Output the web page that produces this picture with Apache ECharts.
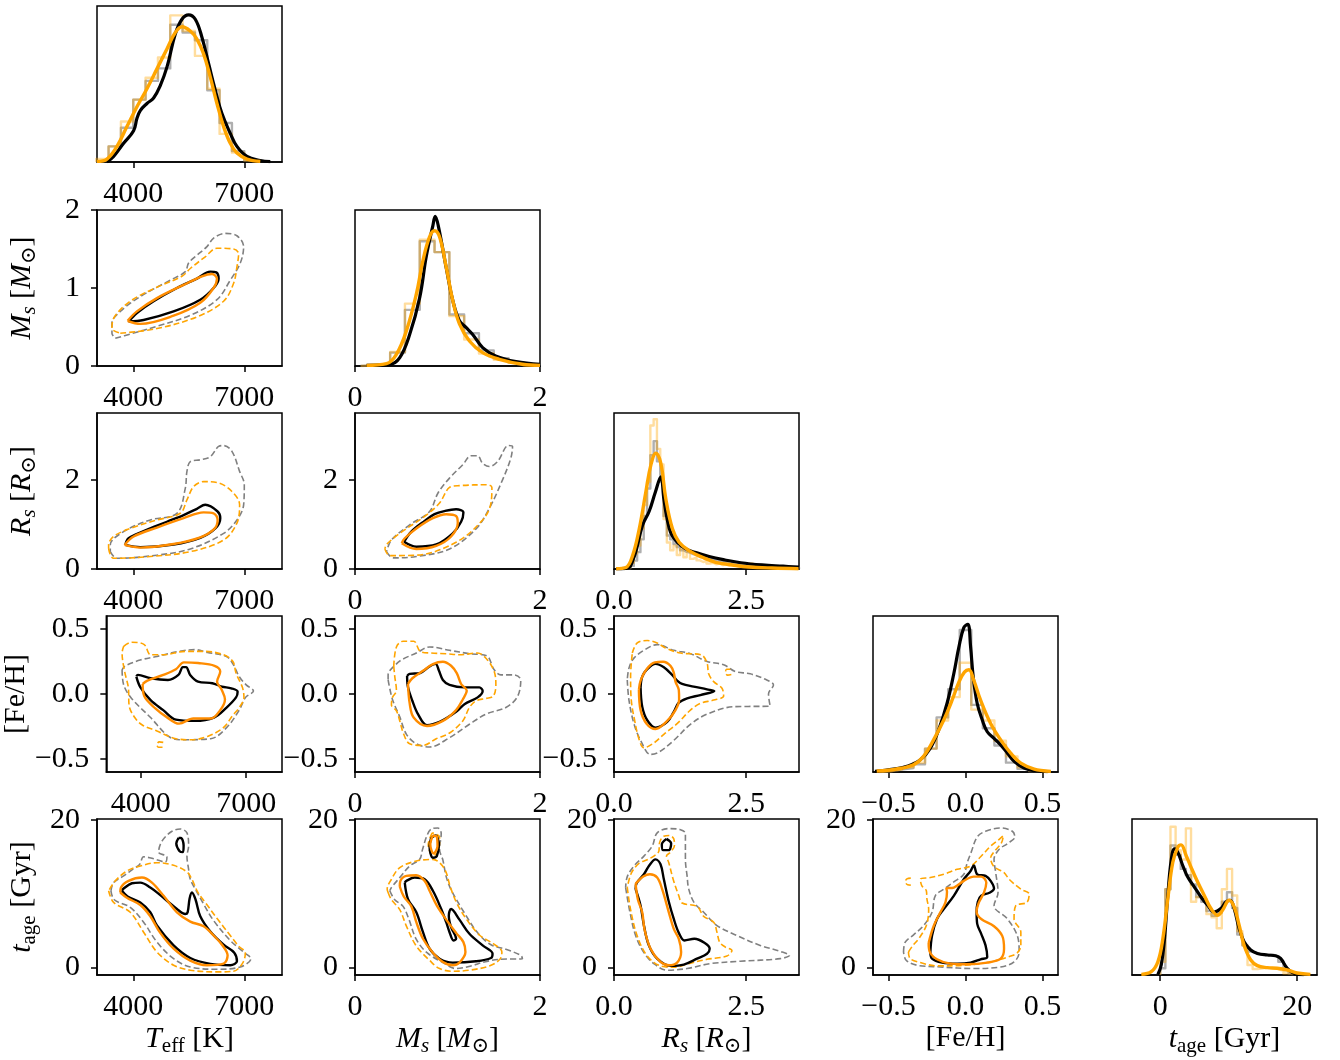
<!DOCTYPE html>
<html><head><meta charset="utf-8">
<script src="https://cdn.jsdelivr.net/npm/echarts@6/dist/echarts.min.js"></script>
<style>html,body{margin:0;padding:0;background:#fff}#c{width:1340px;height:1060px}</style>
</head><body><div id="c"></div>
<script>
// ---------- tick labels ----------
const X_TICKS = { teff:[4000,7000], ms:[0,2], rs:[0,2.5], feh:[-0.5,0,0.5], age:[0,20] };
const Y_TICKS = { ms:[0,1,2], rs:[0,2], feh:[-0.5,0,0.5], age:[0,20] };
const RANGES = { teff:[3020,8020], ms:[0,2], rs:[0,3.5], feh:[-0.6,0.6], age:[-1,20.1] };
const DIAG_RANGES = { teff:[3020,8020], ms:[0,2], rs:[0,3.5], feh:[-0.6,0.6], age:[-4.12,22.9] };

// ---------- 1D histograms (bin edges, heights) ----------
const TEFF_BIN_EDGES = [3000,3333,3667,4000,4333,4667,5000,5333,5667,6000,6333,6667,7000,7333];
const TEFF_HIST_BLACK = [1,10,22,40,52,60,88,83,78,46,25,7,1];
const TEFF_HIST_ORANGE = [2,10,26,40,54,67,94,84,68,47,18,6,1];
const MS_BIN_EDGES = [0.06,0.22,0.38,0.54,0.70,0.86,1.02,1.18,1.34,1.50,1.66,1.82,1.98];
const MS_HIST_BLACK = [0.5,1,8.6,36,80,73,33,21,10,5,2.5,1];
const MS_HIST_ORANGE = [0.5,1.5,9,40,81,73,32,17,8,4,2,0.5];
const RS_BIN_EDGES = [0.1875,0.25,0.3125,0.375,0.4375,0.5,0.5625,0.625,0.6875,0.75,0.8125,0.875,0.9375,1.0,1.0625,1.125,1.1875,1.25,1.3125,1.375,1.4375,1.5,1.5625,1.625,1.6875,1.75,1.8125,1.875,1.9375,2.0,2.0625,2.125,2.1875,2.25,2.3125,2.375,2.4375,2.5,2.5625,2.625,2.6875,2.75,2.8125,2.875,2.9375,3.0,3.0625,3.125,3.1875,3.25,3.3125,3.375,3.4375,3.5];
const RS_HIST_BLACK = [0.2,0.4,2,5.4,10.8,19,34,51.6,73,82,69,56,34,21.5,19,16,14,12,11,10.5,9.5,9,8,7.5,7,6.5,6,5.5,5,4.8,4.5,4.2,4,3.8,3.5,3.3,3,2.8,2.6,2.4,2.2,2,1.9,1.8,1.6,1.5,1.4,1.3,1.2,1.1,1,1,0.9];
const RS_HIST_ORANGE = [0.2,1,4,10,15,26,41,56,92,96,77,67,32,17,12,15,9,13,7.5,11,6.5,7.5,5.5,4.5,5,3.5,4,3,3.5,2.5,3,2,2.5,2,1.5,2,1.5,2,3.5,1.5,1,1.2,0.8,1,0.6,0.8,0.5,0.6,0.4,0.5,0.3,0.4,0.2];
const FEH_BIN_EDGES = [-0.5625,-0.4875,-0.4125,-0.3375,-0.2625,-0.1875,-0.1125,-0.0375,0.0375,0.1125,0.1875,0.2625,0.3375,0.4125,0.4875];
const FEH_HIST_BLACK = [0.5,1.5,2.5,5,15,35,53,91,43,28,17,6,2,0.5];
const FEH_HIST_ORANGE = [0.5,1.5,3,6,15,33,48,70,40,33,20,10,3,1];
const AGE_BIN_EDGES = [0,0.75,1.5,2.25,3,3.75,4.5,5.25,6,6.75,7.5,8.25,9,9.75,10.5,11.25,12,12.75,13.5,14.25,15,15.75,16.5,17.25,18,18.75,19.5];
const AGE_HIST_BLACK = [4.3,55,83,77,68,64,58,50,47,41,38,40,47,53,43,26,19,15,14,13,13,13,12,8.5,3.2,1];
const AGE_HIST_ORANGE = [8.5,55,95,80,74,94,47,50,49,39,37,30,55,68,51,28,19,6.4,3.8,4.3,4.7,4.3,3.8,2.6,1,0.5];

// ---------- 1D KDE curves ----------
const TEFF_KDE_BLACK = [[3289,0],[3469,3.6],[3739,12],[4009,20],[4100,28],[4190,33],[4370,37.5],[4550,41],[4730,49],[4910,60.8],[5136,82],[5316,91.5],[5496,94.3],[5676,91.5],[5856,80],[6037,63],[6217,46],[6397,31],[6622,18.4],[6802,10],[7073,3.6],[7433,1],[7703,0.2]];
const TEFF_KDE_ORANGE = [[3018,0.4],[3289,1.9],[3559,10],[3829,22.7],[4100,35.4],[4370,47],[4640,59.7],[4910,72.5],[5136,83],[5316,86.7],[5541,84],[5721,78.8],[5901,69.3],[6082,54.4],[6262,37.5],[6442,22.7],[6622,12],[6802,5.7],[7073,1.9],[7433,0.4]];
const MS_KDE_BLACK = [[0.125,0.4],[0.376,1],[0.484,5.4],[0.59,20],[0.70,44],[0.77,70],[0.842,90],[0.867,96],[0.9,90],[0.986,63],[1.057,42],[1.129,29],[1.2,24.7],[1.27,20.4],[1.38,11.8],[1.52,6.5],[1.74,2.8],[2.0,1]];
const MS_KDE_ORANGE = [[0.125,0.4],[0.34,1.5],[0.448,7.5],[0.556,22.6],[0.663,46],[0.735,67.7],[0.806,82.8],[0.86,86.7],[0.914,82.8],[0.986,63.4],[1.057,42],[1.129,27],[1.237,16],[1.38,8.6],[1.56,4.3],[1.81,1.1],[2.0,0.4]];
const RS_KDE_BLACK = [[0.04,0],[0.22,0.4],[0.29,1],[0.35,5],[0.42,12],[0.54,28],[0.666,37],[0.78,49],[0.886,59],[0.943,45],[1.0,33],[1.08,22.6],[1.2,17],[1.35,13],[1.55,10.5],[1.8,8],[2.1,5.8],[2.4,4],[2.8,2.6],[3.2,1.8],[3.5,1.2]];
const RS_KDE_ORANGE = [[0.04,0.2],[0.226,1],[0.352,8.6],[0.478,25.8],[0.603,49.5],[0.698,66.7],[0.792,74.2],[0.886,67.7],[0.98,45],[1.106,25.8],[1.232,17.2],[1.42,11.8],[1.672,7.5],[1.923,4.3],[2.24,2.6],[2.55,1.3],[2.99,0.6],[3.49,0.2]];
const FEH_KDE_BLACK = [[-0.587,0.4],[-0.467,1.9],[-0.38,3.6],[-0.293,7.8],[-0.228,15.3],[-0.174,27],[-0.12,43.9],[-0.076,63],[-0.043,80],[-0.011,92.6],[0.015,94.7],[0.033,80.3],[0.05,61],[0.076,43.9],[0.109,33.3],[0.141,25.8],[0.185,21.6],[0.228,17.4],[0.272,12.1],[0.315,6.8],[0.38,2.5],[0.45,0.8],[0.533,0.3]];
const FEH_KDE_ORANGE = [[-0.576,0.6],[-0.446,1.9],[-0.337,4.7],[-0.272,10],[-0.207,20.6],[-0.141,33.3],[-0.087,46],[-0.043,57.6],[-0.007,64],[0.022,65.5],[0.054,58.7],[0.098,46],[0.163,31.1],[0.228,20.6],[0.293,12.1],[0.359,5.7],[0.446,1.9],[0.554,0.4]];
const AGE_KDE_BLACK = [[-0.34,0.4],[0.15,6.4],[0.63,23.4],[1.11,51],[1.6,73.4],[2.08,80.9],[2.57,78.7],[3.29,70.2],[4.02,62.8],[4.99,56.4],[5.96,50],[6.92,44.7],[7.89,40.4],[8.86,42.6],[9.59,46.8],[10.22,47.9],[10.8,42.6],[11.53,29.8],[12.25,21.3],[13.22,16],[14.19,13.8],[15.64,12.8],[16.85,12.3],[17.58,10.6],[18.55,4.3],[19.52,1.1],[20.97,0.2]];
const AGE_KDE_ORANGE = [[-2.76,0.4],[-1.31,2.1],[-0.34,8.5],[0.39,23.4],[1.11,48.9],[1.84,72.3],[2.57,81.9],[3.05,83.4],[3.78,76.6],[4.5,69.1],[5.47,59.6],[6.44,51],[7.41,42.6],[8.38,38.3],[9.1,41.5],[10.07,47.9],[10.8,43.6],[11.53,31.9],[12.25,19.1],[13.22,9.6],[14.19,6],[15.64,4.7],[17.09,4.3],[18.55,3.2],[20.0,1.3],[21.94,0.4]];

// ---------- 2D contours (1 = inner solid, 2 = outer dashed, B = island) ----------
const MS_TEFF_BLACK1 = [[3874,0.57],[4280,0.59],[5090,0.70],[5811,0.85],[6171,1.0],[6307,1.12],[6244,1.2],[6082,1.21],[5721,1.12],[5181,1.0],[4550,0.83],[4099,0.68]];
const MS_TEFF_ORANGE1 = [[3847,0.58],[4190,0.54],[5090,0.645],[5811,0.81],[6171,1.0],[6262,1.12],[6127,1.18],[5856,1.15],[5361,1.04],[4640,0.87],[4099,0.70]];
const MS_TEFF_BLACK2 = [[3514,0.355],[3919,0.41],[4640,0.51],[5541,0.65],[6262,0.85],[6622,1.10],[6893,1.32],[6983,1.53],[6802,1.67],[6487,1.70],[6172,1.64],[5992,1.53],[5721,1.42],[5496,1.32],[5406,1.21],[5000,1.10],[4190,0.89],[3649,0.70],[3424,0.55],[3424,0.42]];
const MS_TEFF_ORANGE2 = [[3649,0.42],[4640,0.48],[5721,0.63],[6442,0.83],[6712,1.06],[6802,1.27],[6847,1.44],[6712,1.50],[6262,1.51],[5946,1.40],[5541,1.25],[5316,1.15],[4640,1.01],[3919,0.83],[3469,0.61],[3424,0.48]];

const RS_TEFF_BLACK1 = [[3784,0.54],[4190,0.49],[5090,0.55],[5811,0.70],[6217,0.91],[6352,1.14],[6280,1.29],[5946,1.44],[5721,1.35],[5361,1.21],[4910,1.06],[4280,0.85],[3874,0.69]];
const RS_TEFF_ORANGE1 = [[3766,0.54],[4190,0.48],[5090,0.56],[5811,0.71],[6190,0.90],[6280,1.10],[6172,1.25],[5901,1.27],[5361,1.14],[4640,0.93],[4009,0.73]];
const RS_TEFF_BLACK2 = [[3379,0.39],[3559,0.24],[4640,0.31],[5541,0.45],[6442,0.80],[6802,1.10],[6983,1.44],[7001,1.89],[6874,2.19],[6667,2.64],[6442,2.77],[6307,2.75],[6082,2.52],[5811,2.45],[5541,2.41],[5451,2.19],[5406,1.81],[5181,1.25],[4460,1.10],[3739,0.84],[3379,0.54]];
const RS_TEFF_ORANGE2 = [[3334,0.46],[3469,0.24],[4460,0.28],[5541,0.39],[6442,0.65],[6802,1.03],[6874,1.44],[6667,1.74],[6307,1.93],[5901,1.96],[5631,1.85],[5451,1.55],[5271,1.25],[4640,1.10],[3919,0.91],[3469,0.73],[3334,0.54]];

const RS_MS_BLACK1 = [[0.53,0.61],[0.663,0.50],[0.878,0.55],[1.057,0.80],[1.147,1.06],[1.172,1.27],[1.093,1.34],[0.968,1.30],[0.86,1.23],[0.753,1.08],[0.609,0.84]];
const RS_MS_ORANGE1 = [[0.505,0.58],[0.663,0.45],[0.878,0.52],[1.039,0.73],[1.111,1.03],[1.093,1.19],[0.986,1.23],[0.842,1.14],[0.663,0.91],[0.538,0.69]];
const RS_MS_BLACK2 = [[0.341,0.39],[0.412,0.25],[0.663,0.28],[1.022,0.45],[1.308,0.90],[1.452,1.36],[1.595,2.0],[1.685,2.49],[1.703,2.75],[1.659,2.77],[1.541,2.41],[1.452,2.30],[1.38,2.37],[1.326,2.54],[1.254,2.54],[1.165,2.34],[1.022,2.04],[0.896,1.70],[0.806,1.29],[0.591,0.99],[0.394,0.65]];
const RS_MS_ORANGE2 = [[0.323,0.45],[0.376,0.30],[0.663,0.31],[1.093,0.60],[1.38,1.10],[1.47,1.48],[1.48,1.83],[1.416,1.89],[1.129,1.87],[1.022,1.83],[0.914,1.48],[0.771,1.21],[0.484,0.80],[0.341,0.55]];

const FEH_TEFF_BLACK1 = [[3874,0.134],[3991,0.051],[4280,-0.047],[4640,-0.124],[5000,-0.197],[5541,-0.207],[6082,-0.181],[6442,-0.104],[6712,-0.026],[6757,0.018],[6577,0.044],[6307,0.057],[6037,0.083],[5631,0.095],[5406,0.147],[5289,0.207],[5199,0.207],[5072,0.147],[4775,0.108],[4280,0.121],[3919,0.147]];
const FEH_TEFF_ORANGE1 = [[4054,0.077],[4099,-0.016],[4415,-0.111],[4730,-0.176],[5090,-0.228],[5496,-0.189],[5992,-0.189],[6262,-0.124],[6397,-0.042],[6307,0.031],[6172,0.095],[6262,0.173],[6100,0.217],[5631,0.238],[5226,0.243],[5000,0.191],[4640,0.147],[4190,0.103]];
const FEH_TEFF_BLACK2 = [[3469,0.186],[3514,0.07],[3739,-0.034],[4280,-0.181],[4820,-0.331],[5226,-0.352],[5992,-0.344],[6442,-0.259],[6802,-0.124],[6983,-0.026],[7208,0.023],[7001,0.07],[6802,0.134],[6622,0.232],[6442,0.289],[5901,0.32],[5541,0.341],[5090,0.328],[4460,0.289],[4009,0.263],[3559,0.217]];
const FEH_TEFF_ORANGE2 = [[3514,0.367],[3739,0.398],[4099,0.38],[4280,0.302],[4640,0.302],[5271,0.328],[5811,0.328],[6352,0.302],[6622,0.25],[6712,0.16],[6893,0.051],[6937,-0.026],[6802,-0.104],[6622,-0.163],[6352,-0.259],[5901,-0.326],[5451,-0.352],[5000,-0.344],[4460,-0.284],[4054,-0.24],[3829,-0.181],[3667,-0.085],[3649,0.044],[3541,0.173],[3469,0.315]];
const FEH_TEFF_ORANGE2B = [[4640,-0.372],[4530,-0.368],[4460,-0.39],[4505,-0.41],[4640,-0.41]];

const FEH_MS_BLACK1 = [[0.563,0.139],[0.573,0.051],[0.62,-0.052],[0.681,-0.155],[0.778,-0.24],[0.914,-0.215],[1.093,-0.137],[1.183,-0.078],[1.326,-0.026],[1.38,0.023],[1.344,0.051],[1.183,0.051],[1.022,0.07],[0.95,0.108],[0.907,0.181],[0.871,0.232],[0.806,0.212],[0.699,0.16],[0.591,0.155]];
const FEH_MS_ORANGE1 = [[0.573,0.077],[0.591,-0.072],[0.634,-0.181],[0.778,-0.246],[0.95,-0.207],[1.093,-0.124],[1.165,-0.042],[1.208,0.026],[1.147,0.077],[1.1,0.16],[1.039,0.217],[0.95,0.248],[0.842,0.23],[0.735,0.178],[0.62,0.121]];
const FEH_MS_BLACK2 = [[0.358,0.108],[0.405,-0.042],[0.484,-0.176],[0.556,-0.31],[0.663,-0.383],[0.806,-0.408],[1.022,-0.336],[1.237,-0.233],[1.416,-0.155],[1.631,-0.104],[1.756,-0.021],[1.792,0.108],[1.72,0.147],[1.577,0.147],[1.505,0.186],[1.423,0.294],[1.237,0.31],[1.022,0.336],[0.806,0.362],[0.663,0.315],[0.52,0.269],[0.448,0.232],[0.358,0.147]];
const FEH_MS_ORANGE2 = [[0.419,0.212],[0.448,0.362],[0.52,0.406],[0.634,0.406],[0.706,0.328],[0.824,0.315],[0.986,0.31],[1.129,0.302],[1.326,0.315],[1.423,0.269],[1.505,0.173],[1.523,0.07],[1.495,-0.016],[1.416,-0.034],[1.308,-0.052],[1.237,-0.104],[1.165,-0.207],[1.022,-0.3],[0.878,-0.344],[0.735,-0.395],[0.591,-0.383],[0.527,-0.31],[0.484,-0.207],[0.448,-0.129],[0.394,-0.085],[0.405,-0.026],[0.448,0.026],[0.43,0.134]];

const FEH_RS_BLACK1 = [[0.503,0.051],[0.534,-0.098],[0.629,-0.202],[0.786,-0.259],[1.006,-0.215],[1.131,-0.137],[1.226,-0.067],[1.383,-0.034],[1.634,-0.008],[1.898,0.023],[1.76,0.036],[1.508,0.057],[1.289,0.077],[1.194,0.103],[1.1,0.147],[0.943,0.206],[0.786,0.232],[0.629,0.191],[0.534,0.134]];
const FEH_RS_ORANGE1 = [[0.471,0.031],[0.503,-0.124],[0.616,-0.228],[0.786,-0.269],[1.006,-0.207],[1.163,-0.124],[1.232,-0.042],[1.226,0.031],[1.163,0.095],[1.131,0.165],[1.069,0.217],[0.93,0.248],[0.773,0.243],[0.616,0.191],[0.503,0.103]];
const FEH_RS_BLACK2 = [[0.251,0.108],[0.283,-0.047],[0.377,-0.228],[0.503,-0.357],[0.691,-0.465],[0.849,-0.447],[1.131,-0.357],[1.446,-0.233],[1.76,-0.155],[2.263,-0.098],[2.954,-0.093],[2.923,0.0],[3.017,0.07],[2.891,0.108],[2.577,0.155],[2.294,0.173],[2.074,0.225],[1.76,0.25],[1.446,0.31],[1.131,0.336],[0.817,0.38],[0.566,0.336],[0.377,0.276],[0.283,0.199]];
const FEH_RS_ORANGE2 = [[0.346,0.315],[0.44,0.393],[0.629,0.411],[0.817,0.393],[0.974,0.354],[1.257,0.315],[1.647,0.302],[1.76,0.238],[1.791,0.155],[1.886,0.095],[2.043,0.044],[2.074,-0.016],[1.886,-0.047],[1.634,-0.072],[1.446,-0.124],[1.194,-0.228],[0.943,-0.31],[0.754,-0.377],[0.566,-0.414],[0.471,-0.344],[0.39,-0.202],[0.327,-0.047],[0.314,0.134]];
const FEH_RS_ORANGE2B = [[2.2,0.19],[2.13,0.19],[2.11,0.165],[2.15,0.145],[2.22,0.15]];

const AGE_TEFF_BLACK1 = [[3694,10.39],[3847,9.62],[4190,8.82],[4460,7.48],[4640,5.69],[5090,3.0],[5541,1.3],[6082,0.5],[6622,0.32],[6802,0.86],[6730,2.02],[6442,3.09],[6082,4.88],[5811,6.94],[5685,9.18],[5586,10.16],[5523,9.36],[5469,7.48],[5406,7.25],[5181,7.93],[4730,9.8],[4460,10.83],[4190,11.5],[3964,11.41],[3739,10.7]];
const AGE_TEFF_BLACK1B = [[5226,17.54],[5163,16.78],[5253,15.75],[5343,15.62],[5361,16.52],[5289,17.54]];
const AGE_TEFF_ORANGE1 = [[3649,10.16],[3829,9.45],[4190,8.46],[4460,6.94],[4730,4.7],[5090,2.56],[5541,0.94],[5992,0.32],[6442,0.54],[6550,1.66],[6397,3.09],[6172,4.34],[5901,5.6],[5541,6.22],[5181,7.48],[4820,9.71],[4505,11.5],[4235,12.18],[3874,11.73],[3667,10.83]];
const AGE_TEFF_BLACK2 = [[3397,10.39],[3487,9.18],[3919,8.15],[4280,6.14],[4640,3.45],[5090,1.21],[5541,0.09],[6262,-0.22],[6893,0.09],[7181,1.21],[7001,2.02],[6622,3.67],[6172,6.36],[5901,8.6],[5703,10.39],[5541,11.95],[5496,13.3],[5451,15.08],[5496,16.43],[5451,18.22],[5271,18.75],[5046,18.44],[4775,17.1],[4685,15.62],[4910,14.99],[4865,14.28],[4550,14.73],[4280,14.99],[4172,13.96],[4009,13.38],[3739,12.4],[3469,11.5]];
const AGE_TEFF_ORANGE2 = [[3334,10.39],[3469,8.82],[3919,7.48],[4280,4.79],[4640,2.11],[5090,0.32],[5541,-0.35],[6262,-0.58],[6712,-0.49],[6964,0.68],[7028,2.02],[6847,2.91],[6622,4.34],[6262,6.67],[5946,8.82],[5739,10.25],[5586,11.95],[5451,12.94],[5090,13.83],[4640,14.19],[4190,13.74],[3829,13.07],[3514,11.73]];

const AGE_MS_BLACK1 = [[0.538,11.5],[0.573,9.27],[0.663,7.48],[0.735,4.79],[0.806,2.56],[0.914,1.21],[1.057,0.68],[1.308,0.86],[1.47,1.3],[1.487,1.88],[1.38,3.0],[1.237,4.57],[1.129,6.49],[1.039,7.93],[1.014,7.03],[1.039,5.46],[1.093,3.9],[1.065,3.67],[1.022,4.79],[0.986,6.14],[0.932,7.93],[0.842,10.39],[0.753,11.95],[0.645,12.18],[0.556,11.73]];
const AGE_MS_BLACK1B = [[0.824,17.54],[0.806,16.43],[0.842,14.86],[0.885,15.08],[0.907,16.65],[0.871,17.86]];
const AGE_MS_ORANGE1 = [[0.484,10.97],[0.527,9.63],[0.609,8.28],[0.663,6.14],[0.735,3.9],[0.842,2.02],[0.95,0.77],[1.057,0.32],[1.129,0.68],[1.194,2.11],[1.172,3.45],[1.093,4.7],[0.986,6.49],[0.885,8.37],[0.806,10.39],[0.753,11.73],[0.663,12.49],[0.556,12.4],[0.491,11.73]];
const AGE_MS_ORANGE1B = [[0.842,17.86],[0.814,16.65],[0.849,15.44],[0.892,16.43],[0.885,17.68]];
const AGE_MS_BLACK2 = [[0.376,10.39],[0.43,9.18],[0.52,8.28],[0.584,6.49],[0.663,3.81],[0.778,2.02],[0.95,0.68],[1.093,-0.13],[1.254,0.23],[1.398,0.77],[1.559,1.12],[1.81,1.21],[1.792,1.66],[1.631,2.47],[1.47,3.09],[1.326,4.7],[1.183,7.39],[1.039,10.52],[0.986,12.31],[0.95,14.55],[0.914,15.98],[0.932,18.13],[0.896,18.89],[0.824,18.75],[0.778,17.86],[0.728,15.89],[0.699,14.64],[0.591,13.74],[0.484,12.18],[0.394,10.83]];
const AGE_MS_ORANGE2 = [[0.358,10.16],[0.394,9.18],[0.484,7.84],[0.556,5.6],[0.663,2.91],[0.806,0.99],[0.914,-0.13],[1.057,-0.49],[1.237,-0.35],[1.452,0.23],[1.566,1.12],[1.588,2.11],[1.495,3.23],[1.351,4.34],[1.208,6.49],[1.1,8.73],[1.029,10.97],[0.986,12.85],[0.932,13.96],[0.842,14.64],[0.663,14.41],[0.484,13.52],[0.394,11.95],[0.348,10.61]];
const AGE_MS_ORANGE2B = [[0.835,18.22],[0.792,16.65],[0.842,15.08],[0.907,15.98],[0.914,17.68]];

const AGE_RS_BLACK1 = [[0.409,10.61],[0.503,8.37],[0.566,5.69],[0.66,3.0],[0.817,1.21],[1.069,0.23],[1.32,0.41],[1.571,1.21],[1.76,1.88],[1.81,2.56],[1.71,3.36],[1.521,3.9],[1.333,3.67],[1.226,4.7],[1.131,6.58],[1.037,8.91],[0.943,11.95],[0.88,13.97],[0.786,14.64],[0.66,13.74],[0.566,12.62],[0.427,11.41]];
const AGE_RS_BLACK1B = [[0.993,17.41],[1.081,16.78],[1.037,15.89],[0.93,15.89],[0.905,16.65]];
const AGE_RS_ORANGE1 = [[0.409,11.28],[0.453,9.18],[0.534,7.48],[0.578,5.15],[0.691,2.56],[0.88,0.77],[1.037,0.32],[1.194,0.68],[1.27,2.11],[1.226,3.9],[1.131,5.24],[1.037,7.48],[0.911,10.61],[0.817,12.18],[0.679,12.62],[0.553,12.31],[0.427,11.5]];
const AGE_RS_BLACK2 = [[0.22,10.83],[0.302,7.48],[0.409,4.34],[0.566,2.02],[0.754,0.54],[1.006,-0.35],[1.383,-0.13],[1.823,0.54],[2.388,0.86],[3.143,1.21],[3.319,1.66],[3.143,2.2],[2.766,3.0],[2.326,4.34],[1.948,5.69],[1.697,7.48],[1.521,8.73],[1.414,10.61],[1.383,12.4],[1.351,14.64],[1.351,16.87],[1.351,18.13],[1.257,18.66],[1.037,18.8],[0.817,18.22],[0.723,16.43],[0.566,15.08],[0.377,13.74],[0.251,12.31]];
const AGE_RS_ORANGE2 = [[0.251,10.83],[0.314,7.84],[0.44,4.26],[0.629,1.57],[0.88,0.23],[1.131,0.05],[1.414,0.54],[1.76,1.12],[2.137,1.57],[2.231,2.33],[2.106,2.78],[1.999,3.45],[1.948,4.79],[1.886,6.14],[1.697,6.94],[1.571,8.28],[1.289,8.73],[1.226,9.71],[1.119,11.95],[1.037,14.19],[0.993,15.08],[1.069,15.62],[1.144,16.52],[1.131,17.41],[1.056,17.86],[0.943,17.77],[0.861,16.87],[0.849,15.75],[0.754,15.08],[0.616,14.55],[0.471,14.1],[0.327,12.76]];

const AGE_FEH_BLACK1 = [[-0.228,2.11],[-0.217,4.34],[-0.185,6.58],[-0.141,7.92],[-0.076,9.71],[-0.011,11.95],[0.033,13.07],[0.054,13.83],[0.076,12.62],[0.13,12.4],[0.163,11.73],[0.185,10.7],[0.159,10.16],[0.102,9.71],[0.08,8.91],[0.072,7.48],[0.076,5.91],[0.102,4.57],[0.13,3.0],[0.141,1.44],[0.098,1.12],[0.033,0.68],[-0.054,0.54],[-0.152,0.68],[-0.217,1.21]];
const AGE_FEH_ORANGE1 = [[-0.239,3.36],[-0.207,5.6],[-0.163,7.48],[-0.13,8.82],[-0.12,10.25],[-0.124,10.7],[-0.076,10.83],[-0.011,11.73],[0.054,12.31],[0.102,12.31],[0.135,11.5],[0.12,10.16],[0.087,8.82],[0.072,7.57],[0.102,6.58],[0.185,5.6],[0.239,4.26],[0.25,2.56],[0.228,1.21],[0.141,0.68],[0.011,0.45],[-0.098,0.54],[-0.185,1.12],[-0.233,2.2]];
const AGE_FEH_BLACK2 = [[-0.402,2.11],[-0.391,3.45],[-0.337,4.43],[-0.272,5.69],[-0.217,7.48],[-0.196,9.71],[-0.141,10.61],[-0.076,11.59],[-0.011,12.62],[0.011,14.19],[0.037,15.62],[0.076,17.68],[0.13,18.44],[0.228,18.89],[0.304,18.44],[0.32,17.68],[0.272,16.78],[0.217,15.98],[0.185,14.64],[0.196,12.85],[0.211,10.16],[0.185,8.37],[0.272,6.58],[0.337,4.26],[0.348,2.11],[0.315,0.77],[0.228,0.09],[0.054,-0.13],[-0.163,0.09],[-0.315,0.32],[-0.385,1.0]];
const AGE_FEH_ORANGE2 = [[-0.37,2.11],[-0.341,3.0],[-0.304,3.9],[-0.254,5.69],[-0.239,7.92],[-0.25,9.27],[-0.254,10.39],[-0.283,11.06],[-0.293,11.95],[-0.228,12.18],[-0.141,12.62],[-0.054,13.29],[0.033,13.74],[0.098,14.99],[0.163,16.43],[0.217,17.32],[0.246,17.86],[0.233,16.87],[0.189,15.75],[0.163,14.86],[0.185,13.65],[0.25,12.85],[0.283,11.95],[0.359,10.61],[0.413,9.94],[0.398,8.82],[0.326,8.37],[0.315,6.58],[0.359,4.79],[0.359,3.0],[0.337,2.02],[0.293,1.57],[0.163,0.77],[-0.011,0.32],[-0.185,0.23],[-0.293,0.68],[-0.359,1.21]];
const AGE_FEH_ORANGE2B = [[-0.355,12.1],[-0.38,12.0],[-0.39,11.6],[-0.375,11.2],[-0.355,11.15]];

// ---------- layout / style ----------
const FONT = "'Liberation Serif','DejaVu Serif','Times New Roman',serif";
const FS = 30;
const COLS = ['teff','ms','rs','feh','age'];
const LEFTS = [97,355,614,873,1132];
const TOPS = [6,210,413,616,819];
const PW = 185, PH = 156;
const AXIS_NAMES = {
  teff:'{i|T}{s|eff}{n| [K]}',
  ms:'{i|M}{si|s}{n| [}{i|M}{s|⊙}{n|]}',
  rs:'{i|R}{si|s}{n| [}{i|R}{s|⊙}{n|]}',
  feh:'{n|[Fe/H]}',
  age:'{i|t}{s|age}{n| [Gyr]}'
};
const RICH = {
  n:{fontSize:FS,fontFamily:FONT,color:'#000'},
  i:{fontSize:FS,fontFamily:FONT,fontStyle:'italic',color:'#000'},
  s:{fontSize:21,fontFamily:FONT,color:'#000',verticalAlign:'bottom',padding:[15,0,0,0]},
  si:{fontSize:21,fontFamily:FONT,fontStyle:'italic',color:'#000',verticalAlign:'bottom',padding:[15,0,0,0]}
};
const HIST = {
  teff:[TEFF_BIN_EDGES,TEFF_HIST_BLACK,TEFF_HIST_ORANGE,TEFF_KDE_BLACK,TEFF_KDE_ORANGE],
  ms:[MS_BIN_EDGES,MS_HIST_BLACK,MS_HIST_ORANGE,MS_KDE_BLACK,MS_KDE_ORANGE],
  rs:[RS_BIN_EDGES,RS_HIST_BLACK,RS_HIST_ORANGE,RS_KDE_BLACK,RS_KDE_ORANGE],
  feh:[FEH_BIN_EDGES,FEH_HIST_BLACK,FEH_HIST_ORANGE,FEH_KDE_BLACK,FEH_KDE_ORANGE],
  age:[AGE_BIN_EDGES,AGE_HIST_BLACK,AGE_HIST_ORANGE,AGE_KDE_BLACK,AGE_KDE_ORANGE]
};
const CONTOURS = {
  '1_0':{g2:[MS_TEFF_BLACK2],o2:[MS_TEFF_ORANGE2],k1:[MS_TEFF_BLACK1],o1:[MS_TEFF_ORANGE1]},
  '2_0':{g2:[RS_TEFF_BLACK2],o2:[RS_TEFF_ORANGE2],k1:[RS_TEFF_BLACK1],o1:[RS_TEFF_ORANGE1]},
  '2_1':{g2:[RS_MS_BLACK2],o2:[RS_MS_ORANGE2],k1:[RS_MS_BLACK1],o1:[RS_MS_ORANGE1]},
  '3_0':{g2:[FEH_TEFF_BLACK2],o2:[FEH_TEFF_ORANGE2],o2open:[FEH_TEFF_ORANGE2B],k1:[FEH_TEFF_BLACK1],o1:[FEH_TEFF_ORANGE1]},
  '3_1':{g2:[FEH_MS_BLACK2],o2:[FEH_MS_ORANGE2],k1:[FEH_MS_BLACK1],o1:[FEH_MS_ORANGE1]},
  '3_2':{g2:[FEH_RS_BLACK2],o2:[FEH_RS_ORANGE2],o2open:[FEH_RS_ORANGE2B],k1:[FEH_RS_BLACK1],o1:[FEH_RS_ORANGE1]},
  '4_0':{g2:[AGE_TEFF_BLACK2],o2:[AGE_TEFF_ORANGE2],k1:[AGE_TEFF_BLACK1,AGE_TEFF_BLACK1B],o1:[AGE_TEFF_ORANGE1]},
  '4_1':{g2:[AGE_MS_BLACK2],o2:[AGE_MS_ORANGE2,AGE_MS_ORANGE2B],k1:[AGE_MS_BLACK1,AGE_MS_BLACK1B],o1:[AGE_MS_ORANGE1,AGE_MS_ORANGE1B]},
  '4_2':{g2:[AGE_RS_BLACK2],o2:[AGE_RS_ORANGE2],k1:[AGE_RS_BLACK1,AGE_RS_BLACK1B],o1:[AGE_RS_ORANGE1]},
  '4_3':{g2:[AGE_FEH_BLACK2],o2:[AGE_FEH_ORANGE2],o2open:[AGE_FEH_ORANGE2B],k1:[AGE_FEH_BLACK1],o1:[AGE_FEH_ORANGE1]}
};

function fmt(v, key, isX){
  let s;
  if (key==='feh' || (key==='rs' && isX)) s = Number(v).toFixed(1);
  else s = String(v);
  return s.replace('-', '\u2212');
}
function makeAxis(gi, key, isX, diag, showName){
  const rng = diag ? DIAG_RANGES[key] : RANGES[key];
  const ticks = isX ? X_TICKS[key] : Y_TICKS[key];
  return {
    type:'value', gridIndex:gi, min:rng[0], max:rng[1],
    axisLine:{show:true,onZero:false,lineStyle:{color:'#000',width:1.5}},
    axisTick:{show:true,length:6,inside:false,lineStyle:{color:'#000',width:1.5},customValues:ticks},
    axisLabel:{show:true,customValues:ticks,formatter:(v)=>fmt(v,key,isX),fontSize:FS,fontFamily:FONT,color:'#000',margin:isX?17:17},
    splitLine:{show:false},
    name: showName ? AXIS_NAMES[key] : '',
    nameLocation:'middle', nameGap: isX ? 46 : 57,
    nameTextStyle:{fontSize:FS,fontFamily:FONT,color:'#000',rich:RICH}
  };
}
function diagY(gi){
  return {type:'value',gridIndex:gi,min:0,max:100,axisLine:{show:false},axisTick:{show:false},axisLabel:{show:false},splitLine:{show:false}};
}
function stepPts(edges, vals){
  const p=[[edges[0],0]];
  for(let i=0;i<vals.length;i++){ p.push([edges[i],vals[i]]); p.push([edges[i+1],vals[i]]); }
  p.push([edges[vals.length],0]);
  return p;
}
function lineSeries(gi, data, color, width, dashed, smooth){
  return {type:'line', xAxisIndex:gi, yAxisIndex:gi, data, showSymbol:false, symbol:'none',
    smooth, silent:true, animation:false, clip:true,
    lineStyle:{color, width, type: dashed ? [6,3] : 'solid', cap:'butt', join:'round'}};
}
const closed = d => d.concat([d[0]]);

const grids=[], xAxes=[], yAxes=[], series=[];
let gi=0;
for(let r=0;r<5;r++){
  for(let c=0;c<=r;c++){
    grids.push({left:LEFTS[c],top:TOPS[r],width:PW,height:PH,show:true,borderColor:'#000',borderWidth:1.5,backgroundColor:'rgba(0,0,0,0)'});
    const diag = r===c;
    xAxes.push(makeAxis(gi, COLS[c], true, diag, r===4));
    yAxes.push(diag ? diagY(gi) : makeAxis(gi, COLS[r], false, false, c===0 && r>0));
    if(diag){
      const h = HIST[COLS[r]];
      series.push(lineSeries(gi, stepPts(h[0],h[1]), 'rgba(110,110,110,0.55)', 2.4, false, false));
      series.push(lineSeries(gi, stepPts(h[0],h[2]), 'rgba(255,165,0,0.38)', 2.4, false, false));
      series.push(lineSeries(gi, h[3], '#000', 3.2, false, 0.4));
      series.push(lineSeries(gi, h[4], '#FFA500', 3.4, false, 0.4));
    } else {
      const cs = CONTOURS[r+'_'+c];
      cs.g2.forEach(d=>series.push(lineSeries(gi, closed(d), '#808080', 1.6, true, 0.35)));
      cs.o2.forEach(d=>series.push(lineSeries(gi, closed(d), '#FFA500', 1.6, true, 0.35)));
      (cs.o2open||[]).forEach(d=>series.push(lineSeries(gi, d, '#FFA500', 1.6, true, 0.35)));
      cs.k1.forEach(d=>series.push(lineSeries(gi, closed(d), '#000', 2.4, false, 0.35)));
      cs.o1.forEach(d=>series.push(lineSeries(gi, closed(d), '#FF8C00', 2.4, false, 0.35)));
    }
    gi++;
  }
}

const chart = echarts.init(document.getElementById('c'), null, {renderer:'canvas'});
chart.setOption({animation:false, backgroundColor:'#fff', grid:grids, xAxis:xAxes, yAxis:yAxes, series});
</script>
</body></html>
